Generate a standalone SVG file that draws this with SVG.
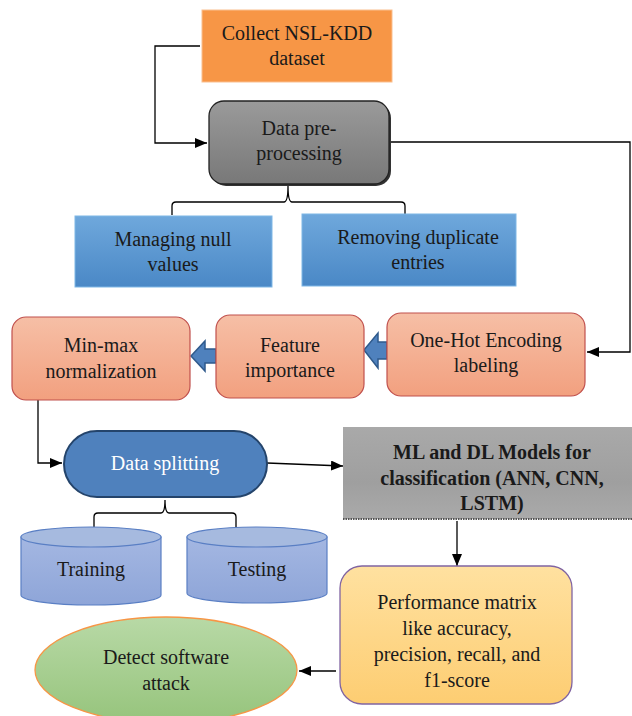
<svg xmlns="http://www.w3.org/2000/svg" width="632" height="716" viewBox="0 0 632 716">
<defs>
<linearGradient id="gGray" x1="0" y1="0" x2="0" y2="1"><stop offset="0" stop-color="#9a9a9a"/><stop offset="1" stop-color="#787878"/></linearGradient>
<linearGradient id="gGray2" x1="0" y1="0" x2="0" y2="1"><stop offset="0" stop-color="#a9a9a9"/><stop offset="0.6" stop-color="#9f9f9f"/><stop offset="1" stop-color="#aaaaaa"/></linearGradient>
<linearGradient id="gBlue" x1="0" y1="0" x2="0" y2="1"><stop offset="0" stop-color="#6fa8dc"/><stop offset="1" stop-color="#4a88c6"/></linearGradient>
<linearGradient id="gSalmon" x1="0" y1="0" x2="0" y2="1"><stop offset="0" stop-color="#f6bfa6"/><stop offset="1" stop-color="#f2a07f"/></linearGradient>
<linearGradient id="gCyl" x1="0" y1="0" x2="0" y2="1"><stop offset="0" stop-color="#a4b7e2"/><stop offset="1" stop-color="#8ea5d8"/></linearGradient>
<linearGradient id="gYel" x1="0" y1="0" x2="0" y2="1"><stop offset="0" stop-color="#ffe1a0"/><stop offset="1" stop-color="#fdcd72"/></linearGradient>
<linearGradient id="gGreen" x1="0" y1="0" x2="0" y2="1"><stop offset="0" stop-color="#b8d9a6"/><stop offset="1" stop-color="#96c47c"/></linearGradient>
<marker id="ah" markerWidth="12" markerHeight="10" refX="12" refY="5" orient="auto" markerUnits="userSpaceOnUse"><path d="M0,0 L12,5 L0,10 Z" fill="#000"/></marker>
</defs>
<style>
text{font-family:"Liberation Serif","Times New Roman",serif;font-size:20px;fill:#1a1a1a;text-anchor:middle}
.w{fill:#ffffff}
.b{font-weight:bold}
.ln{fill:none;stroke:#000;stroke-width:1.3}
.blk{fill:#4f81bd;stroke:#2f5a8c;stroke-width:1.5}
.sal{fill:url(#gSalmon);stroke:#c0504d;stroke-width:1.2}
.cyl{fill:url(#gCyl);stroke:#5a7fc4;stroke-width:1.2}
.cyltop{fill:#a6badf;stroke:#5a7fc4;stroke-width:1.2}
</style>

<g id="connectors">
<path class="ln" d="M200,46 H155 V143 H207" marker-end="url(#ah)"/>
<path class="ln" d="M389,142 H630 V352 H587" marker-end="url(#ah)"/>
<path class="ln" d="M288,186 Q288,202 284,202 H176 Q172,202 172,206 V215 M288,186 Q288,202 292,202 H401 Q405,202 405,206 V214"/>
<path class="ln" d="M38,400 V463 H62" marker-end="url(#ah)"/>
<path class="ln" d="M267,463 L343,466" marker-end="url(#ah)"/>
<path class="ln" d="M165,500 Q165,513 161,513 H98 Q94,513 94,517 V527 M165,500 Q165,513 169,513 H232 Q236,513 236,517 V527"/>
<path class="ln" d="M457,521 V566" marker-end="url(#ah)"/>
<path class="ln" d="M336,671 H299" marker-end="url(#ah)"/>
<path class="blk" d="M191,356 L205,341 V349 H216 V363 H205 V371 Z"/>
<path class="blk" d="M364,350 L378,333 V342 H387 V359 H378 V368 Z"/>
</g>

<g id="collect">
<rect x="202" y="10" width="190" height="72" fill="#f79646" stroke="#fabf8f" stroke-width="1"/>
<text x="297" y="40">Collect NSL-KDD</text>
<text x="297" y="65">dataset</text>
</g>

<g id="preprocessing">
<rect x="211" y="103" width="180" height="83" rx="15" fill="#333"/>
<rect x="209" y="101" width="180" height="83" rx="15" fill="url(#gGray)" stroke="#222" stroke-width="1.3"/>
<text x="299" y="135">Data pre-</text>
<text x="299" y="160">processing</text>
</g>

<g id="nullvalues">
<rect x="75" y="216" width="197" height="71" fill="url(#gBlue)" stroke="#7fb7e6" stroke-width="1"/>
<text x="173" y="246">Managing null</text>
<text x="173" y="271">values</text>
</g>

<g id="duplicates">
<rect x="302" y="214" width="214" height="72" fill="url(#gBlue)" stroke="#7fb7e6" stroke-width="1"/>
<text x="418" y="244">Removing duplicate</text>
<text x="418" y="269">entries</text>
</g>

<g id="minmax">
<rect x="12" y="317" width="178" height="83" rx="14" class="sal"/>
<text x="101" y="352">Min-max</text>
<text x="101" y="378">normalization</text>
</g>

<g id="feature">
<rect x="216" y="315" width="148" height="83" rx="14" class="sal"/>
<text x="290" y="352">Feature</text>
<text x="290" y="377">importance</text>
</g>

<g id="onehot">
<rect x="387" y="313" width="198" height="83" rx="14" class="sal"/>
<text x="486" y="347">One-Hot Encoding</text>
<text x="486" y="372">labeling</text>
</g>

<g id="splitting">
<rect x="64" y="431" width="203" height="66" rx="33" fill="#4f81bd" stroke="#24446b" stroke-width="2"/>
<text x="165" y="470" class="w">Data splitting</text>
</g>

<g id="training">
<path class="cyl" d="M21,537 V595 A70,10 0 0 0 161,595 V537 Z"/>
<ellipse class="cyltop" cx="91" cy="537" rx="70" ry="10"/>
<text x="91" y="576">Training</text>
</g>

<g id="testing">
<path class="cyl" d="M187,537 V593 A70,10 0 0 0 327,593 V537 Z"/>
<ellipse class="cyltop" cx="257" cy="537" rx="70" ry="10"/>
<text x="257" y="576">Testing</text>
</g>

<g id="models">
<rect x="343" y="427" width="289" height="92" fill="url(#gGray2)"/>
<line x1="343" y1="519" x2="632" y2="519" stroke="#555" stroke-width="2" stroke-dasharray="1.5 1"/>
<text x="492" y="459" class="b" fill="#222">ML and DL Models for</text>
<text x="492" y="485" class="b">classification (ANN, CNN,</text>
<text x="492" y="510" class="b">LSTM)</text>
</g>

<g id="performance">
<rect x="340" y="566" width="232" height="138" rx="22" fill="url(#gYel)" stroke="#8064a2" stroke-width="1.3"/>
<text x="457" y="609">Performance matrix</text>
<text x="457" y="635">like accuracy,</text>
<text x="457" y="661">precision, recall, and</text>
<text x="457" y="687">f1-score</text>
</g>

<g id="detect">
<ellipse cx="166" cy="670" rx="131" ry="53" fill="url(#gGreen)" stroke="#f79646" stroke-width="1.3"/>
<text x="166" y="664">Detect software</text>
<text x="166" y="690">attack</text>
</g>
</svg>
